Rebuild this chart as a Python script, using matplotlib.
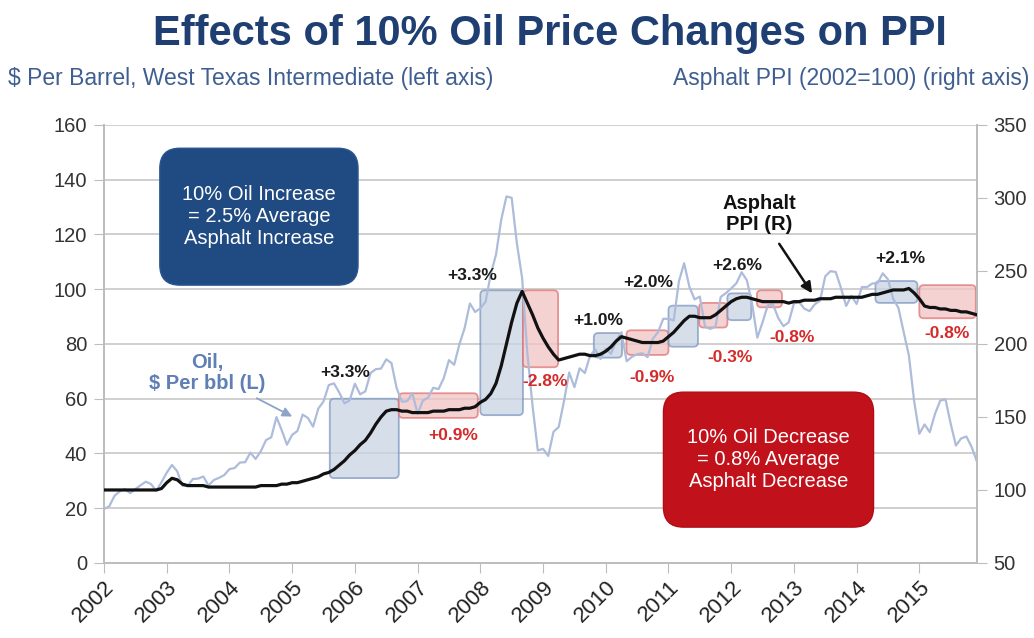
import numpy as np
import matplotlib
matplotlib.use("Agg")
import matplotlib.pyplot as plt
from matplotlib.patches import FancyBboxPatch

plt.rcParams['font.family'] = ['Liberation Sans', 'DejaVu Sans']

# WTI oil, $ per barrel, monthly Jan 2002 - Dec 2015
oil = [19.7, 20.7, 24.5, 26.2, 27.0, 25.5, 27.0, 28.4, 29.7, 28.8, 26.4, 29.5,
       33.0, 35.8, 33.5, 28.2, 28.1, 30.7, 30.8, 31.6, 28.3, 30.3, 31.1, 32.1,
       34.3, 34.7, 36.7, 36.8, 40.3, 38.0, 40.8, 44.9, 45.9, 53.3, 48.5, 43.2,
       46.8, 48.2, 54.2, 53.0, 49.8, 56.4, 59.0, 65.0, 65.6, 62.3, 58.3, 59.4,
       65.5, 61.6, 62.7, 69.4, 70.8, 71.0, 74.4, 73.0, 63.8, 58.9, 59.1, 62.0,
       54.5, 59.3, 60.4, 64.0, 63.5, 67.5, 74.1, 72.4, 79.9, 85.8, 94.8, 91.7,
       93.0, 95.4, 105.5, 112.6, 125.4, 133.9, 133.4, 116.7, 104.1, 76.6, 57.3, 41.1,
       41.7, 39.1, 47.9, 49.7, 59.0, 69.6, 64.2, 71.1, 69.4, 75.7, 78.0, 74.5,
       78.3, 76.4, 81.2, 84.3, 73.7, 75.3, 76.3, 76.6, 75.2, 81.9, 84.3, 89.2,
       89.2, 88.6, 102.9, 109.5, 100.9, 96.3, 97.3, 86.3, 85.5, 86.3, 97.2, 98.6,
       100.3, 102.2, 106.2, 103.3, 94.7, 82.3, 87.9, 94.1, 94.5, 89.5, 86.5, 87.9,
       94.8, 95.3, 92.9, 92.0, 94.5, 95.8, 104.7, 106.6, 106.3, 100.5, 93.9, 97.6,
       94.6, 100.8, 100.8, 102.1, 102.2, 105.8, 103.6, 96.5, 93.2, 84.4, 75.8, 59.3,
       47.2, 50.6, 47.8, 54.5, 59.3, 59.8, 50.9, 42.9, 45.5, 46.2, 42.4, 37.2]

# Asphalt PPI (2002=100), monthly Jan 2002 - Dec 2015
asphalt = [100, 100, 100, 100, 100, 100, 100, 100, 100, 100, 100, 101,
           105, 108, 107, 104, 103, 103, 103, 103, 102, 102, 102, 102,
           102, 102, 102, 102, 102, 102, 103, 103, 103, 103, 104, 104,
           105, 105, 106, 107, 108, 109, 111, 112, 114, 117, 120, 124,
           127, 131, 134, 139, 145, 150, 154, 155, 155, 154, 154, 153,
           153, 153, 153, 154, 154, 154, 155, 155, 155, 156, 156, 157,
           160, 162, 166, 173, 185, 200, 215, 228, 236, 228, 220, 211,
           204, 198, 193, 189, 190, 191, 192, 193, 193, 192, 192, 193,
           195, 198, 202, 205, 204, 203, 202, 201, 201, 201, 201, 202,
           205, 208, 212, 216, 219, 219, 218, 218, 218, 220, 223, 226,
           229, 231, 232, 232, 231, 230, 229, 229, 229, 229, 229, 228,
           229, 229, 230, 230, 230, 231, 231, 231, 232, 232, 232, 232,
           232, 232, 233, 234, 234, 235, 236, 237, 237, 237, 238, 235,
           231, 226, 225, 225, 224, 224, 223, 223, 222, 222, 221, 220]

months = 2002 + np.arange(len(oil)) / 12.0
years = list(range(2002, 2016))

# oil move periods: start, end, oil low, oil high, asphalt change
box_start = [2005.60, 2006.70, 2008.00, 2008.68, 2009.81, 2010.33,
             2011.00, 2011.49, 2011.94, 2012.41, 2014.30, 2015.00]
box_end = [2006.70, 2007.96, 2008.68, 2009.24, 2010.26, 2011.00,
           2011.47, 2011.94, 2012.32, 2012.81, 2014.97, 2015.90]
box_low = [31, 53, 54, 71.5, 75, 76, 79, 86, 88.7, 93.4, 95, 89.4]
box_high = [60, 62, 99.6, 99.6, 84, 85, 94, 95, 98.5, 99.6, 103, 101.5]
box_up = [True, False, True, False, True, False, True, False, True, False, True, False]
box_pct = ["+3.3%", "+0.9%", "+3.3%", "-2.8%", "+1.0%", "-0.9%",
           "+2.0%", "-0.3%", "+2.6%", "-0.8%", "+2.1%", "-0.8%"]
lab_x = [2005.84, 2007.57, 2007.87, 2009.03, 2009.88, 2010.74,
         2010.68, 2011.98, 2012.10, 2012.97, 2014.70, 2015.44]
lab_y = [69.7, 46.7, 105.1, 66.4, 88.7, 67.9, 102.6, 75.2, 108.8, 82.5, 111.3, 83.9]

navy = '#1f3f73'
gridc = '#cfcfcf'
spinec = '#bdbdbd'

fig = plt.figure(figsize=(10.34, 6.38), dpi=100)
ax1 = fig.add_axes([0.1006, 0.1176, 0.8443, 0.6865])
ax2 = ax1.twinx()

x0, x1 = 2002, 2015.92
ax1.set_xlim(x0, x1)
ax1.set_ylim(0, 160)
ax2.set_ylim(50, 350)

ax1.set_yticks(range(0, 161, 20))
ax2.set_yticks(range(50, 351, 50))
ax1.set_xticks(years)
ax1.set_xticklabels([str(y) for y in years], rotation=45, ha='right',
                    rotation_mode='anchor', fontsize=16, color='#222222')
ax1.tick_params(axis='x', length=7, color=spinec, pad=3)
ax1.tick_params(axis='y', length=7, color=spinec, labelsize=14.5, labelcolor='#333333', pad=5)
ax2.tick_params(axis='y', length=7, color=spinec, labelsize=14.5, labelcolor='#333333', pad=5)
ax1.grid(axis='y', color=gridc, lw=1.4)
ax1.set_axisbelow(True)
for a in (ax1, ax2):
    a.spines['top'].set_visible(False)
    for s in ('left', 'right', 'bottom'):
        a.spines[s].set_color(spinec)
        a.spines[s].set_linewidth(1.3)

# pixel aspect of data units, used to keep rounded corners round
bb = ax1.get_position()
W, H = fig.get_size_inches() * fig.dpi
px_x = bb.width * W / (x1 - x0)
px_y = bb.height * H / 160.0
asp = px_x / px_y

# shaded periods
for s, e, lo, hi, up in zip(box_start, box_end, box_low, box_high, box_up):
    if up:
        fc, ec = '#c9d3e4', '#7d97c0'
    else:
        fc, ec = '#f2c4c4', '#e07474'
    p = FancyBboxPatch((s, lo), e - s, hi - lo,
                       boxstyle='round,pad=0,rounding_size=0.07',
                       mutation_aspect=asp, fc=fc, ec=ec, lw=1.3,
                       alpha=0.75, zorder=2)
    ax1.add_patch(p)

ax1.plot(months, oil, color='#adbcda', lw=1.6, zorder=3)
ax2.plot(months, asphalt, color='#111111', lw=2.3, zorder=4)

for x, y, t, up in zip(lab_x, lab_y, box_pct, box_up):
    col = '#1a1a1a' if t.startswith('+') and up else '#d42a2a'
    ax1.text(x, y, t, color=col, fontsize=12.5, fontweight='bold',
             ha='center', va='center', zorder=6)

# callout boxes
blue_box = FancyBboxPatch((2002.89, 101.5), 3.16, 50,
                          boxstyle='round,pad=0,rounding_size=0.32',
                          mutation_aspect=asp, fc='#1f4a82', ec='#2a5590',
                          lw=1, zorder=5)
ax1.add_patch(blue_box)
ax1.text(2004.47, 126.5, "10% Oil Increase\n= 2.5% Average\nAsphalt Increase",
         color='white', fontsize=14.5, ha='center', va='center',
         linespacing=1.2, zorder=6)

red_box = FancyBboxPatch((2010.92, 13.1), 3.35, 49.3,
                         boxstyle='round,pad=0,rounding_size=0.32',
                         mutation_aspect=asp, fc='#c1121b', ec='#b00d15',
                         lw=1, zorder=5)
ax1.add_patch(red_box)
ax1.text(2012.595, 37.8, "10% Oil Decrease\n= 0.8% Average\nAsphalt Decrease",
         color='white', fontsize=14.5, ha='center', va='center',
         linespacing=1.2, zorder=6)

# series labels
ax1.annotate("Oil,\n$ Per bbl (L)", xy=(2005.0, 53.5), xytext=(2003.65, 69.5),
             color='#5f7fb5', fontsize=14.5, fontweight='bold',
             ha='center', va='center', linespacing=1.15, zorder=6,
             bbox=dict(fc='white', ec='none', pad=2),
             arrowprops=dict(arrowstyle='-|>', color='#8da3c8', lw=1.3,
                             shrinkA=4, shrinkB=0, mutation_scale=14))
ax1.annotate("Asphalt\nPPI (R)", xy=(2013.29, 98.5), xytext=(2012.45, 127.5),
             color='#111111', fontsize=14.5, fontweight='bold',
             ha='center', va='center', linespacing=1.15, zorder=6,
             arrowprops=dict(arrowstyle='-|>', color='#111111', lw=1.8,
                             shrinkA=6, shrinkB=0, mutation_scale=16))

# titles
fig.text(0.532, 0.947, "Effects of 10% Oil Price Changes on PPI", color=navy,
         fontsize=30, fontweight='bold', ha='center', va='center')
fig.text(0.008, 0.877, "$ Per Barrel, West Texas Intermediate (left axis)",
         color='#3f5f92', fontsize=16.5, ha='left', va='center')
fig.text(0.996, 0.877, "Asphalt PPI (2002=100) (right axis)",
         color='#3f5f92', fontsize=16.5, ha='right', va='center')

fig.savefig("out.png", dpi=100, facecolor='white')
